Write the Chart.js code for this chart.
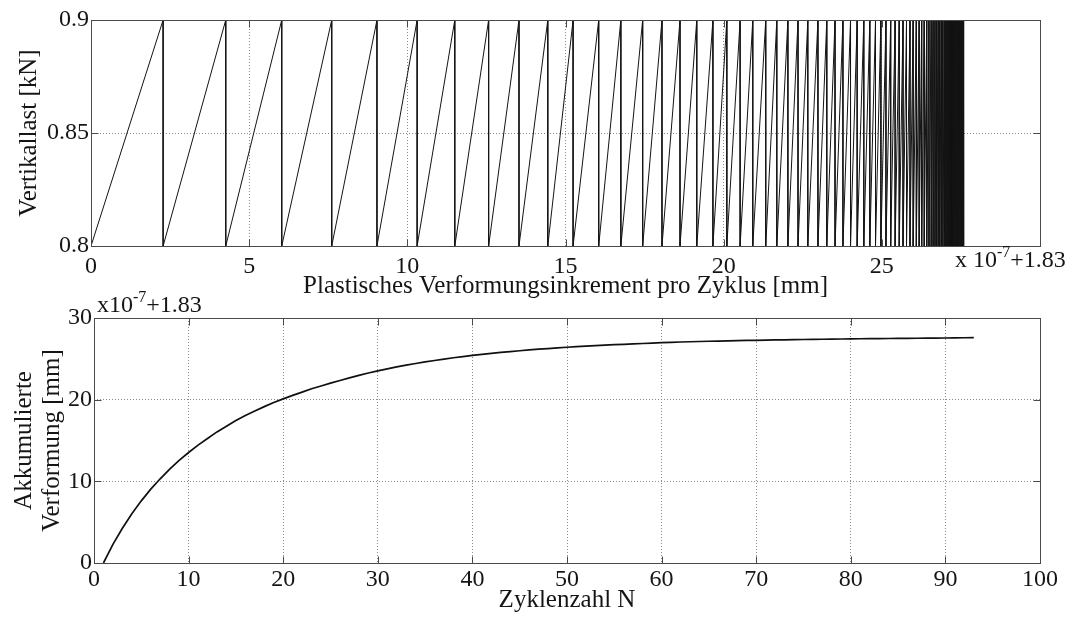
<!DOCTYPE html>
<html>
<head>
<meta charset="utf-8">
<script src="https://cdn.jsdelivr.net/npm/chart.js@4.4.1/dist/chart.umd.min.js"></script>
<style>
  html, body { margin: 0; padding: 0; background: #fff; }
  #wrap { position: relative; width: 1073px; height: 617px; overflow: hidden; }
  #loadChart { position: absolute; left: 0; top: 0; }
  #accChart { position: absolute; left: 0; top: 280px; }
</style>
</head>
<body>
<div id="wrap">
  <canvas id="loadChart" width="1073" height="302"></canvas>
  <canvas id="accChart" width="1073" height="337"></canvas>
</div>
<script>
// accumulated plastic deformation after cycle N = 1..93 (x 1e-7, offset +1.83 mm)
const accumulated = [
  0, 2.28, 4.26, 6.03, 7.61, 9.04, 10.31, 11.50, 12.57, 13.53,
  14.44, 15.24, 16.05, 16.75, 17.44, 18.05, 18.62, 19.15, 19.66, 20.10,
  20.52, 20.92, 21.33, 21.68, 22.03, 22.35, 22.66, 22.98, 23.26, 23.52,
  23.77, 24.01, 24.22, 24.43, 24.62, 24.80, 24.97, 25.13, 25.28, 25.42,
  25.55, 25.67, 25.78, 25.89, 25.99, 26.09, 26.18, 26.26, 26.34, 26.42,
  26.49, 26.56, 26.62, 26.68, 26.73, 26.78, 26.83, 26.88, 26.93, 26.98,
  27.02, 27.06, 27.09, 27.12, 27.15, 27.18, 27.20, 27.23, 27.25, 27.27,
  27.29, 27.31, 27.33, 27.35, 27.37, 27.39, 27.40, 27.42, 27.43, 27.45,
  27.46, 27.47, 27.48, 27.49, 27.50, 27.51, 27.52, 27.53, 27.54, 27.55,
  27.56, 27.58, 27.59
];
// load levels of each cycle [kN]
const loadMin = 0.8;
const loadMax = 0.9;

const loadTicks = [0.8, 0.85, 0.9];
const incrementTicks = [0, 5, 10, 15, 20, 25, 30];
const cycleTicks = [0, 10, 20, 30, 40, 50, 60, 70, 80, 90, 100];
const deformTicks = [0, 10, 20, 30];

const FONT = '"Liberation Serif", "Times New Roman", serif';
const TXT = '#151515';
const TICK_SIZE = 24;
const TITLE_SIZE = 25;

// sawtooth: load ramps up during a cycle, then drops back at the new deformation
const sawtooth = [{ x: accumulated[0], y: loadMin }];
for (let i = 1; i < accumulated.length; i++) {
  sawtooth.push({ x: accumulated[i], y: loadMax });
  sawtooth.push({ x: accumulated[i], y: loadMin });
}
const curve = accumulated.map((v, i) => ({ x: i + 1, y: v }));

// box around the axes, inward tick marks and the exponent note
const axesFrame = {
  id: 'axesFrame',
  afterDatasetsDraw(chart, args, opts) {
    const { ctx, chartArea: a, scales: { x, y } } = chart;
    ctx.save();
    ctx.strokeStyle = '#4a4a4a';
    ctx.lineWidth = 1;
    const L = Math.round(a.left) + 0.5, R = Math.round(a.right) + 0.5;
    const T = Math.round(a.top) + 0.5, B = Math.round(a.bottom) + 0.5;
    ctx.strokeRect(L, T, R - L, B - T);
    ctx.beginPath();
    x.ticks.forEach(t => {
      const px = Math.round(x.getPixelForValue(t.value)) + 0.5;
      ctx.moveTo(px, B); ctx.lineTo(px, B - 7);
      ctx.moveTo(px, T); ctx.lineTo(px, T + 7);
    });
    y.ticks.forEach(t => {
      const py = Math.round(y.getPixelForValue(t.value)) + 0.5;
      ctx.moveTo(L, py); ctx.lineTo(L + 7, py);
      ctx.moveTo(R, py); ctx.lineTo(R - 7, py);
    });
    ctx.stroke();

    if (opts.exponent) {
      const e = opts.exponent;
      let px = e.anchor === 'right' ? a.right + e.dx : a.left + e.dx;
      const py = (e.anchor === 'right' ? a.bottom : a.top) + e.dy;
      ctx.fillStyle = TXT;
      ctx.textBaseline = 'alphabetic';
      ctx.textAlign = 'left';
      ctx.font = '24px ' + FONT;
      ctx.fillText(e.base, px, py);
      px += ctx.measureText(e.base).width;
      ctx.font = '16px ' + FONT;
      ctx.fillText('-7', px, py - 10);
      px += ctx.measureText('-7').width;
      ctx.font = '24px ' + FONT;
      ctx.fillText('+1.83', px, py);
    }
    ctx.restore();
  }
};

function axis(min, max, ticks, extra) {
  return Object.assign({
    type: 'linear',
    min: min,
    max: max,
    afterBuildTicks: s => { s.ticks = ticks.map(v => ({ value: v })); },
    ticks: {
      font: { family: FONT, size: TICK_SIZE },
      color: TXT,
      autoSkip: false,
      maxRotation: 0,
      padding: 2,
      callback: v => String(+v.toFixed(2))
    },
    grid: { color: '#8a8a8a', lineWidth: 1, drawTicks: false },
    border: { display: false, dash: [1, 2] }
  }, extra);
}

function title(text, pad, lineHeight) {
  return {
    display: true,
    text: text,
    font: { family: FONT, size: TITLE_SIZE, lineHeight: lineHeight || 1.2 },
    color: TXT,
    padding: pad
  };
}

const loadX = axis(0, 30, incrementTicks, {
  afterFit: s => { s.height = 56; },
  title: title('Plastisches Verformungsinkrement pro Zyklus [mm]', { top: 0, bottom: 1 })
});
// the 30 label gives way to the exponent note
loadX.ticks = Object.assign({}, loadX.ticks, { padding: 6, callback: v => (v === 30 ? '' : String(v)) });

new Chart(document.getElementById('loadChart'), {
  type: 'scatter',
  data: {
    datasets: [{
      data: sawtooth,
      showLine: true,
      borderColor: '#141414',
      borderWidth: 1,
      pointRadius: 0,
      tension: 0
    }]
  },
  options: {
    responsive: false,
    animation: false,
    events: [],
    layout: { padding: { top: 20, right: 33, left: 0, bottom: 0 } },
    plugins: {
      legend: { display: false },
      tooltip: { enabled: false },
      axesFrame: { exponent: { base: 'x 10', anchor: 'right', dx: -85, dy: 21 } }
    },
    scales: {
      x: loadX,
      y: axis(loadMin, loadMax, loadTicks, {
        afterFit: s => { s.width = 91; },
        title: title('Vertikallast [kN]', { top: 14, bottom: 0 })
      })
    }
  },
  plugins: [axesFrame]
});

new Chart(document.getElementById('accChart'), {
  type: 'scatter',
  data: {
    datasets: [{
      data: curve,
      showLine: true,
      borderColor: '#101010',
      borderWidth: 1.7,
      pointRadius: 0,
      tension: 0
    }]
  },
  options: {
    responsive: false,
    animation: false,
    events: [],
    layout: { padding: { top: 38, right: 33, left: 0, bottom: 0 } },
    plugins: {
      legend: { display: false },
      tooltip: { enabled: false },
      axesFrame: { exponent: { base: 'x10', anchor: 'left', dx: 3, dy: -6 } }
    },
    scales: {
      x: axis(0, 100, cycleTicks, {
        afterFit: s => { s.height = 54; },
        title: title('Zyklenzahl N', { top: 0, bottom: 2 })
      }),
      y: axis(0, 30, deformTicks, {
        afterFit: s => { s.width = 94; },
        title: title(['Akkumulierte', 'Verformung [mm]'], { top: 10, bottom: 0 }, 1.12)
      })
    }
  },
  plugins: [axesFrame]
});
</script>
</body>
</html>
